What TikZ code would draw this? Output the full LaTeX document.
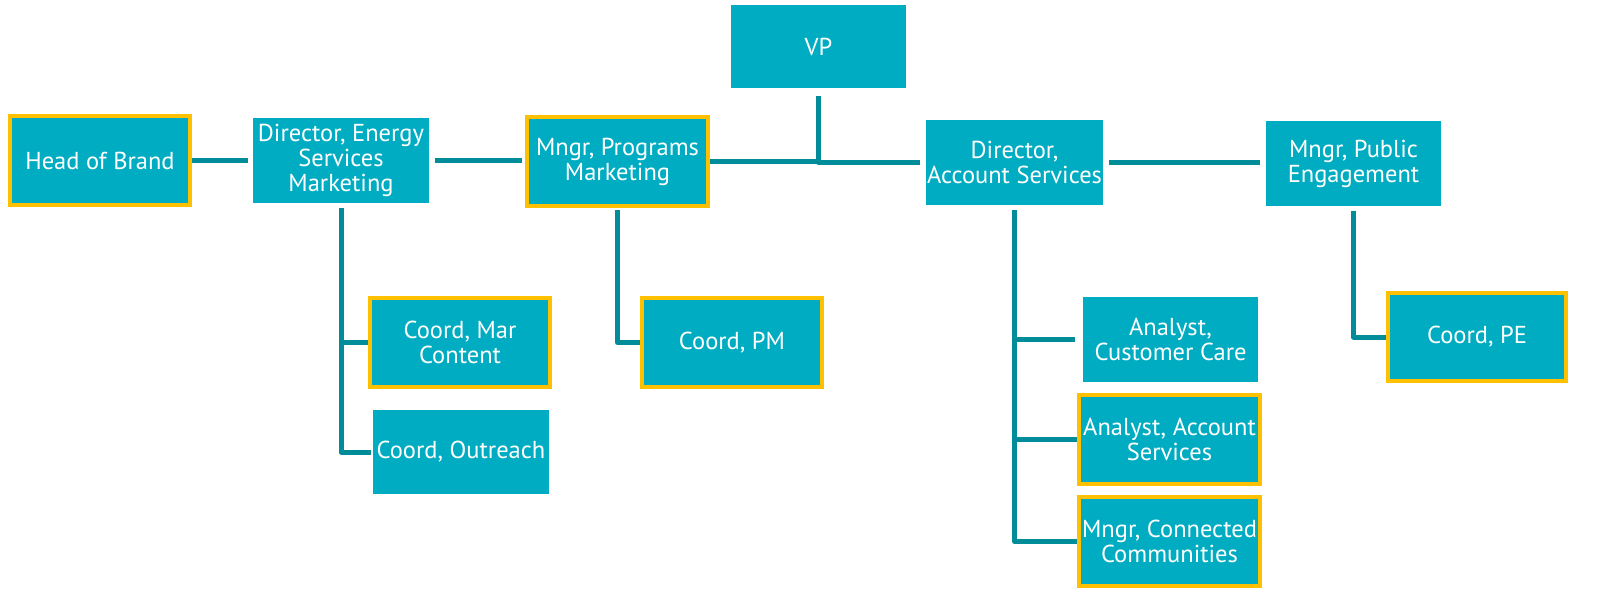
\documentclass[tikz,border=0pt]{standalone}
\usepackage{fontspec}
\setmainfont{PT Sans}
\definecolor{boxfill}{RGB}{0,172,193}
\definecolor{linecol}{RGB}{0,140,153}
\definecolor{hilite}{RGB}{255,192,0}
\tikzset{
  x=1pt, y=-1pt,
  box/.style={rectangle, fill=boxfill, text=white, align=center, inner sep=1pt, outer sep=0pt,
    font=\fontsize{24.5}{25}\selectfont},
  hbox/.style={box, draw=hilite, line width=4pt},
  conn/.style={draw=linecol, line width=5pt, line join=round},
}
\begin{document}
\begin{tikzpicture}
\useasboundingbox (0,0) rectangle (1608,604);
% nodes (center, size)
\node[box, minimum width=175, minimum height=83] (vp) at (818.5,46.5) {VP};
\node[hbox, minimum width=180, minimum height=89] (hob) at (100,160.5) {Head of Brand};
\node[box, minimum width=176, minimum height=85] (desm) at (341,160.5) {Director, Energy\\Services\\Marketing};
\node[hbox, minimum width=181, minimum height=89] (mpm) at (617.5,161.5) {Mngr, Programs\\Marketing};
\node[box, minimum width=175, minimum height=85] (das) at (1014.5,162.5) {Director,\\Account Services};
\node[box, minimum width=175, minimum height=85] (mpe) at (1353.5,163.5) {Mngr, Public\\Engagement};
\node[hbox, minimum width=180, minimum height=89] (cmc) at (460,342.5) {Coord, Mar\\Content};
\node[box, minimum width=176, minimum height=84] (coe) at (461,452) {Coord, Outreach};
\node[hbox, minimum width=180, minimum height=89] (cpm) at (732,342.5) {Coord, PM};
\node[box, minimum width=175, minimum height=85] (acc) at (1170.5,339.5) {Analyst,\\Customer Care};
\node[hbox, minimum width=181, minimum height=89] (aas) at (1169.5,439.5) {Analyst, Account\\Services};
\node[hbox, minimum width=181, minimum height=89] (mcc) at (1169.5,541.5) {Mngr, Connected\\Communities};
\node[hbox, minimum width=178, minimum height=88] (cpe) at (1477,337) {Coord, PE};
% connectors
\draw[conn, shorten <=2pt, shorten >=5pt] (hob.east) -- (desm.west);
\draw[conn, shorten <=6pt, shorten >=5pt] (desm.east) -- (desm.east -| mpm.west);
\draw[conn, shorten <=2pt] (mpm.east) -- (vp.south |- mpm.east);
\draw[conn, shorten <=8pt] (vp.south) -- (vp.south |- das.west) -- ([xshift=-6pt]das.west);
\draw[conn, shorten <=6pt, shorten >=6pt] (das.east) -- (das.east -| mpe.west);
\draw[conn, shorten <=5pt] (desm.south) -- (desm.south |- coe.west) -- ([xshift=-2pt]coe.west);
\draw[conn] (desm.south |- cmc.west) -- ([xshift=-2pt]cmc.west);
\draw[conn, shorten <=4pt] (mpm.south) -- (mpm.south |- cpm.west) -- ([xshift=-2pt]cpm.west);
\draw[conn, shorten <=5pt] (das.south) -- (das.south |- mcc.west) -- ([xshift=-2pt]mcc.west);
\draw[conn] (das.south |- acc.west) -- ([xshift=-8pt]acc.west);
\draw[conn] (das.south |- aas.west) -- ([xshift=-2pt]aas.west);
\draw[conn, shorten <=5pt] (mpe.south) -- (mpe.south |- cpe.west) -- ([xshift=-2pt]cpe.west);
\end{tikzpicture}
\end{document}
